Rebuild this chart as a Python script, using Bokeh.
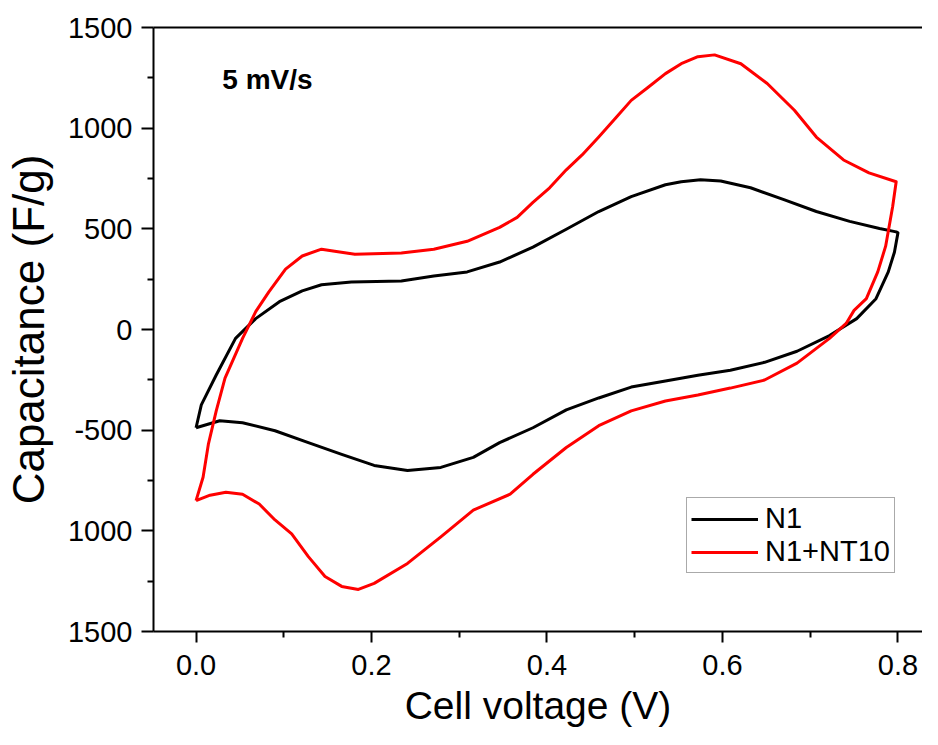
from bokeh.plotting import figure
from bokeh.models import (Range1d, FixedTicker, LinearAxis, Legend, LegendItem, Label)
from bokeh.embed import file_html
from bokeh.resources import INLINE

# ---- data ----
n1_voltage = [0.000, 0.006, 0.023, 0.045, 0.068, 0.095, 0.121, 0.143, 0.177, 0.234, 0.271, 0.309,
              0.346, 0.384, 0.422, 0.459, 0.496, 0.535, 0.553, 0.575, 0.598, 0.632, 0.670, 0.707,
              0.745, 0.779, 0.798, 0.800,
              0.796, 0.789, 0.775, 0.753, 0.722, 0.685, 0.648, 0.609, 0.572, 0.535, 0.496, 0.459,
              0.422, 0.384, 0.346, 0.316, 0.279, 0.241, 0.203, 0.166, 0.128, 0.090, 0.053, 0.027, 0.000]
n1_capacitance = [-488, -374, -226, -44, 54, 138, 192, 222, 236, 241, 266, 286,
                  335, 409, 498, 586, 660, 719, 734, 744, 738, 704, 645, 586,
                  537, 502, 485, 480,
                  384, 286, 153, 54, -30, -108, -163, -202, -227, -256, -286, -340,
                  -399, -488, -562, -635, -685, -700, -675, -620, -562, -503, -463, -453, -488]

nt10_voltage = [0.000, 0.008, 0.014, 0.023, 0.033, 0.053, 0.068, 0.083, 0.102, 0.121, 0.143, 0.158,
                0.181, 0.234, 0.271, 0.309, 0.346, 0.366, 0.384, 0.403, 0.422, 0.440, 0.459, 0.478,
                0.496, 0.515, 0.535, 0.553, 0.572, 0.591, 0.621, 0.651, 0.682, 0.707, 0.738, 0.767, 0.798,
                0.794, 0.786, 0.777, 0.764, 0.750, 0.741, 0.722, 0.685, 0.648, 0.609, 0.572, 0.535,
                0.496, 0.459, 0.422, 0.384, 0.358, 0.316, 0.279, 0.241, 0.203, 0.185, 0.166, 0.147,
                0.128, 0.109, 0.090, 0.072, 0.053, 0.034, 0.016, 0.000]
nt10_capacitance = [-850, -734, -571, -404, -241, -44, 89, 187, 300, 365, 399, 389,
                    374, 380, 399, 438, 507, 557, 631, 704, 793, 867, 956, 1049,
                    1138, 1202, 1271, 1320, 1355, 1364, 1320, 1222, 1089, 956, 842, 778, 734,
                    611, 414, 286, 153, 95, 30, -44, -167, -251, -291, -325, -355,
                    -404, -478, -586, -719, -818, -897, -1030, -1162, -1261, -1291, -1276, -1227,
                    -1128, -1015, -946, -867, -818, -808, -823, -850]

series_names = ["N1", "N1+NT10"]
series_colors = ["#000000", "#ff0000"]

x_ticks = [0.0, 0.2, 0.4, 0.6, 0.8]
x_minor = [0.1, 0.3, 0.5, 0.7]
x_tick_labels = ["0.0", "0.2", "0.4", "0.6", "0.8"]
y_ticks = [-1500, -1000, -500, 0, 500, 1000, 1500]
y_minor = [-1250, -750, -250, 250, 750, 1250]
y_tick_labels = ["1500", "1000", "-500", "0", "500", "1000", "1500"]

annotation_text = "5 mV/s"

FONT = "Liberation Sans"

p = figure(width=922, height=729, output_backend="svg", toolbar_location=None,
           x_range=Range1d(-0.0485, 0.828), y_range=Range1d(-1500, 1500),
           min_border_left=145, min_border_top=27, min_border_bottom=97, min_border_right=0,
           x_axis_label="Cell voltage (V)", y_axis_label="Capacitance (F/g)")
p.background_fill_color = "white"
p.border_fill_color = "white"
p.outline_line_color = None
p.xgrid.visible = False
p.ygrid.visible = False

r1 = p.line(n1_voltage, n1_capacitance, line_color=series_colors[0], line_width=3, line_join="round")
r2 = p.line(nt10_voltage, nt10_capacitance, line_color=series_colors[1], line_width=3, line_join="round")

xa = p.xaxis[0]
xa.ticker = FixedTicker(ticks=x_ticks, minor_ticks=x_minor)
xa.major_label_overrides = {t: l for t, l in zip(x_ticks, x_tick_labels)}
ya = p.yaxis[0]
ya.ticker = FixedTicker(ticks=y_ticks, minor_ticks=y_minor)
ya.major_label_overrides = {t: l for t, l in zip(y_ticks, y_tick_labels)}

for ax, tick_len in ((xa, 11), (ya, 12)):
    ax.axis_line_width = 2
    ax.axis_line_color = "black"
    ax.major_tick_line_width = 2
    ax.minor_tick_line_width = 2
    ax.major_tick_line_color = "black"
    ax.minor_tick_line_color = "black"
    ax.major_tick_out = tick_len
    ax.major_tick_in = 0
    ax.minor_tick_out = 6
    ax.minor_tick_in = 0
    ax.major_label_text_font = FONT
    ax.major_label_text_font_size = "29px"
    ax.major_label_text_color = "black"
    ax.axis_label_text_font = FONT
    ax.axis_label_text_font_style = "normal"
    ax.axis_label_text_color = "black"

xa.major_label_standoff = 12
xa.axis_label_text_font_size = "39px"
xa.axis_label_standoff = 6
ya.major_label_standoff = 9
ya.axis_label_text_font_size = "44px"
ya.axis_label_standoff = 12

top = LinearAxis(ticker=FixedTicker(ticks=[]), axis_line_width=2, axis_line_color="black",
                 major_tick_out=0, major_tick_in=0, minor_tick_out=0, minor_tick_in=0,
                 major_label_text_font_size="0px")
p.add_layout(top, "above")

legend = Legend(items=[LegendItem(label=series_names[0], renderers=[r1]),
                       LegendItem(label=series_names[1], renderers=[r2])],
                location=(533, 58), orientation="vertical",
                label_text_font=FONT, label_text_font_size="29px", label_text_color="black",
                glyph_width=67, glyph_height=30, label_height=30, label_standoff=7,
                spacing=0, padding=4, margin=0,
                border_line_color="#555555", border_line_width=1,
                background_fill_color="white", background_fill_alpha=1.0)
p.add_layout(legend, "center")

p.add_layout(Label(x=0.03, y=1240, text=annotation_text, text_font=FONT,
                   text_font_style="bold", text_font_size="28px", text_color="black",
                   text_baseline="alphabetic"))

open("out.html", "w").write(file_html(p, INLINE))
